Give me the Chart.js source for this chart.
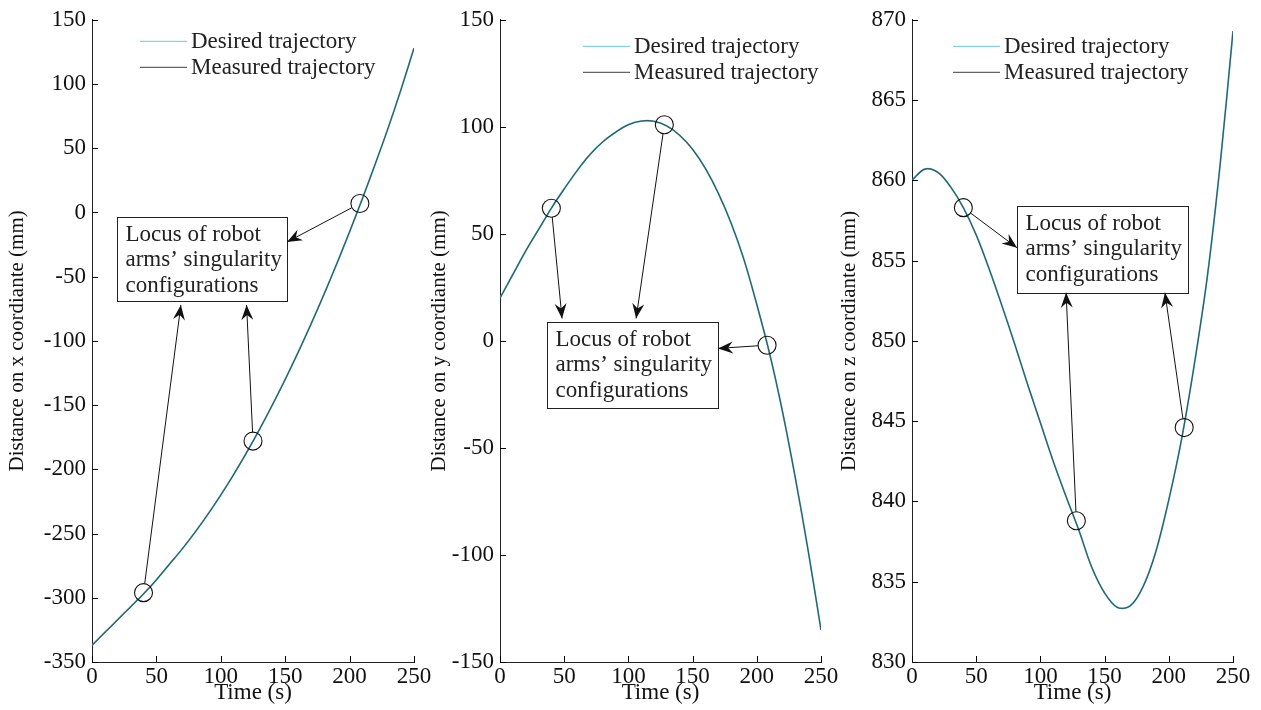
<!DOCTYPE html>
<html>
<head>
<meta charset="utf-8">
<script src="https://cdn.jsdelivr.net/npm/chart.js@4.4.1/dist/chart.umd.min.js"></script>
<style>
  html, body { margin: 0; padding: 0; background: #fff; }
  #wrap { position: relative; width: 1261px; height: 710px; overflow: hidden; }
  canvas { position: absolute; top: 0; }
</style>
</head>
<body>
<div id="wrap">
  <canvas id="chartX" width="440" height="710" style="left:0px"></canvas>
  <canvas id="chartY" width="420" height="710" style="left:420px"></canvas>
  <canvas id="chartZ" width="429" height="710" style="left:832px"></canvas>
</div>
<script>
// Time samples (s)
const times = [0, 10, 20, 30, 40, 50, 60, 70, 80, 90, 100, 110, 120,
               130, 140, 150, 160, 170, 180, 190, 200, 210, 220, 230, 240, 250];

// x coordinate (mm)
const xDesired = [-337, -327, -317, -307, -297, -286, -274, -262, -249, -235, -220, -204, -187,
                  -169, -150, -130, -109, -87, -64, -40, -15, 11, 38, 66, 96, 128];
const xMeasured = xDesired.slice();

// y coordinate (mm)
const yDesired = [20, 31, 42, 52, 62, 71, 79.5, 87, 93, 97.5, 101, 102.7, 102.6,
                  100.4, 96, 89.5, 80.5, 69, 55, 38, 17, -6, -33, -64, -98, -135];
const yMeasured = yDesired.slice();

// z coordinate (mm)
const zDesired = [860.0, 860.7, 860.5, 859.6, 858.3, 856.6, 854.5, 852.2, 849.8, 847.3, 844.9, 842.5, 840.3,
                  838.2, 835.9, 834.3, 833.4, 833.5, 834.7, 836.9, 840.1, 843.9, 848.6, 854.0, 861.0, 869.3];
const zMeasured = zDesired.slice();

// singularity configurations (time, value)
const xSingT = [40, 125, 208];
const xSingV = [-296, -178, 7];
const ySingT = [40, 128, 208];
const ySingV = [62, 101, -2];
const zSingT = [40, 128, 212];
const zSingV = [858.3, 838.8, 844.6];

// tick labels
const timeTicks = [0, 50, 100, 150, 200, 250];
const xTicks = [-350, -300, -250, -200, -150, -100, -50, 0, 50, 100, 150];
const yTicks = [-150, -100, -50, 0, 50, 100, 150];
const zTicks = [830, 835, 840, 845, 850, 855, 860, 865, 870];

const FONT = 'Liberation Serif';
const noteLines = ['Locus of robot', 'arms\u2019 singularity', 'configurations'];

function pts(t, v) { return t.map((tt, i) => ({ x: tt, y: v[i] })); }

function arrowHead(ctx, x0, y0, x1, y1) {
  const ang = Math.atan2(y1 - y0, x1 - x0);
  const L = 15, W = 6, N = 10;
  ctx.save();
  ctx.translate(x1, y1);
  ctx.rotate(ang);
  ctx.beginPath();
  ctx.moveTo(0, 0);
  ctx.lineTo(-L, -W);
  ctx.lineTo(-N, 0);
  ctx.lineTo(-L, W);
  ctx.closePath();
  ctx.fill();
  ctx.restore();
}

function overlay(opt) {
  return {
    id: 'overlay',
    afterDraw(chart) {
      const { ctx, chartArea: a, scales: { x, y } } = chart;
      ctx.save();
      ctx.strokeStyle = '#000';
      ctx.fillStyle = '#000';
      ctx.lineWidth = 1;
      // inward tick marks
      ctx.beginPath();
      x.ticks.forEach(t => {
        const px = Math.round(x.getPixelForValue(t.value)) + 0.5;
        ctx.moveTo(px, a.bottom); ctx.lineTo(px, a.bottom - 6);
      });
      y.ticks.forEach(t => {
        const py = Math.round(y.getPixelForValue(t.value)) + 0.5;
        ctx.moveTo(a.left, py); ctx.lineTo(a.left + 6, py);
      });
      ctx.stroke();

      // legend
      const lx = a.left + opt.legend[0], ly = a.top + opt.legend[1];
      ctx.font = '23px "' + FONT + '"';
      ctx.textBaseline = 'middle';
      ctx.textAlign = 'left';
      [['Desired trajectory', '#62cbdc'], ['Measured trajectory', '#3c3c3c']].forEach((e, i) => {
        const yy = ly + i * 26 + 0.5;
        ctx.strokeStyle = e[1];
        ctx.beginPath(); ctx.moveTo(lx, yy); ctx.lineTo(lx + 47, yy); ctx.stroke();
        ctx.fillStyle = '#222';
        ctx.fillText(e[0], lx + 51, yy + 1);
      });

      // note box
      const b = opt.box;
      const bx0 = Math.round(x.getPixelForValue(b[0])) + 0.5, bx1 = Math.round(x.getPixelForValue(b[1])) + 0.5;
      const by0 = Math.round(y.getPixelForValue(b[2])) + 0.5, by1 = Math.round(y.getPixelForValue(b[3])) + 0.5;
      ctx.fillStyle = '#fff';
      ctx.fillRect(bx0, by0, bx1 - bx0, by1 - by0);
      ctx.strokeStyle = '#222';
      ctx.strokeRect(bx0, by0, bx1 - bx0, by1 - by0);
      ctx.fillStyle = '#222';
      noteLines.forEach((s, i) => ctx.fillText(s, bx0 + 8, by0 + 17 + i * 25.5));

      // arrows from the singularity circles to the box
      ctx.strokeStyle = '#111';
      ctx.fillStyle = '#111';
      opt.arrows.forEach((tg, i) => {
        const cx = x.getPixelForValue(opt.singT[i]), cy = y.getPixelForValue(opt.singV[i]);
        const tx = x.getPixelForValue(tg[0]), ty = y.getPixelForValue(tg[1]);
        const d = Math.hypot(tx - cx, ty - cy);
        const sx = cx + (tx - cx) / d * 9, sy = cy + (ty - cy) / d * 9;
        ctx.beginPath(); ctx.moveTo(sx, sy); ctx.lineTo(tx, ty); ctx.stroke();
        arrowHead(ctx, sx, sy, tx, ty);
      });
      ctx.restore();
    }
  };
}

function makeChart(id, opt) {
  new Chart(document.getElementById(id), {
    type: 'line',
    data: {
      datasets: [
        { label: 'Measured trajectory', data: pts(times, opt.measured), borderColor: 'rgba(40,58,64,0.75)',
          borderWidth: 1.1, pointRadius: 0, tension: 0.35, order: 2 },
        { label: 'Desired trajectory', data: pts(times, opt.desired), borderColor: '#4fb3c4',
          borderWidth: 1.8, pointRadius: 0, tension: 0.35, order: 3 },
        { type: 'scatter', label: 'Singularity', data: pts(opt.singT, opt.singV), pointRadius: 9,
          pointBorderColor: '#111', pointBackgroundColor: 'rgba(0,0,0,0)', pointBorderWidth: 1.1, order: 1 }
      ]
    },
    options: {
      responsive: false,
      animation: false,
      layout: { padding: { left: 0, right: opt.padRight, top: 17, bottom: 0 } },
      plugins: { legend: { display: false }, tooltip: { enabled: false } },
      scales: {
        x: {
          type: 'linear', min: 0, max: 250,
          afterBuildTicks: s => { s.ticks = timeTicks.map(v => ({ value: v })); },
          afterFit: s => { s.height = 48; },
          grid: { display: false, drawTicks: false },
          border: { display: true, color: '#222', width: 1 },
          ticks: { color: '#111', font: { family: FONT, size: 23 }, padding: 1, maxRotation: 0 },
          title: { display: true, text: 'Time (s)', color: '#111', font: { family: FONT, size: 23 }, padding: { top: 0, bottom: 3 } }
        },
        y: {
          type: 'linear', min: opt.ticks[0], max: opt.ticks[opt.ticks.length - 1],
          afterBuildTicks: s => { s.ticks = opt.ticks.map(v => ({ value: v })); },
          afterFit: s => { s.width = opt.yWidth; },
          grid: { display: false, drawTicks: false },
          border: { display: true, color: '#222', width: 1 },
          ticks: { color: '#111', font: { family: FONT, size: 23 }, padding: 6 },
          title: { display: true, text: opt.yTitle, color: '#111', font: { family: FONT, size: 21 }, padding: { top: opt.titlePad, bottom: 0 } }
        }
      }
    },
    plugins: [overlay(opt)]
  });
}

makeChart('chartX', {
  desired: xDesired, measured: xMeasured, singT: xSingT, singV: xSingV, ticks: xTicks,
  yTitle: 'Distance on x coordiante (mm)', yWidth: 92, padRight: 26, titlePad: 5,
  legend: [48, 21],
  box: [19.4, 151.4, -3.7, -69],
  arrows: [[69, -72], [120, -72], [151.4, -23]]
});

makeChart('chartY', {
  desired: yDesired, measured: yMeasured, singT: ySingT, singV: ySingV, ticks: yTicks,
  yTitle: 'Distance on y coordiante (mm)', yWidth: 80, padRight: 19, titlePad: 7,
  legend: [83, 26],
  box: [36.6, 169.8, 8.6, -31.5],
  arrows: [[48.3, 10.5], [106, 10.5], [169.8, -3.5]]
});

makeChart('chartZ', {
  desired: zDesired, measured: zMeasured, singT: zSingT, singV: zSingV, ticks: zTicks,
  yTitle: 'Distance on z coordiante (mm)', yWidth: 80, padRight: 28, titlePad: 5,
  legend: [41, 26],
  box: [81.8, 215, 858.4, 853.0],
  arrows: [[81.8, 855.8], [120, 853.0], [197, 853.0]]
});
</script>
</body>
</html>
